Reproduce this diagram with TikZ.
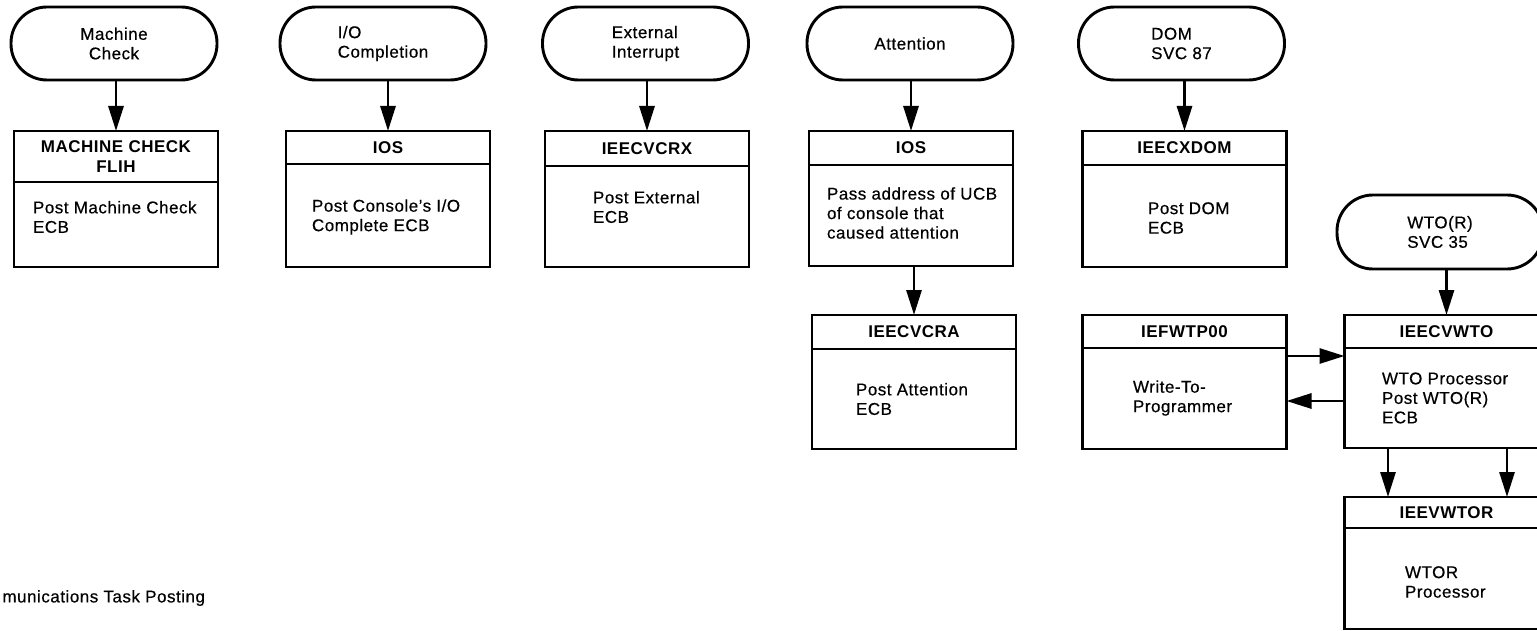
\documentclass[tikz,border=0pt]{standalone}
\usepackage{fontspec}
\setmainfont{Liberation Sans}[LetterSpace=3, FakeBold=0.45]
\newfontfamily\headfont{Liberation Sans Bold}[LetterSpace=3]
\usetikzlibrary{arrows.meta,calc}
\begin{document}
\begin{tikzpicture}[x=1pt,y=-1pt,
  every node/.style={font=\fontsize{17}{19.5}\selectfont, inner sep=0pt, outer sep=0pt},
  lw/.style={line width=2.9pt},
  terminal/.style={draw, lw, rectangle, rounded corners=36pt,
    minimum width=206pt, minimum height=73pt, align=left},
  head/.style={draw, lw, anchor=north, minimum width=204pt, minimum height=34pt,
    font=\fontsize{17}{19.5}\selectfont\headfont, align=center},
  body/.style={draw, lw, anchor=north, minimum width=204pt},
  txt/.style={anchor=west, align=left},
  flow/.style={lw, -{Triangle[length=25pt,width=15pt]}}
]
\useasboundingbox (0,0) rectangle (1537,631);
\fill[white] (0,0) rectangle (1537,631);
\clip (0,0) rectangle (1537,631);

% entry events
\node[terminal, align=center] (t1) at (114,43.5) {Machine\\Check};
\node[terminal] (t2) at (383,43.5) {I/O\\Completion};
\node[terminal] (t3) at (645.5,43.5) {External\\Interrupt};
\node[terminal] (t4) at (910,43.5) {Attention};
\node[terminal] (t5) at (1181.5,43.5) {DOM\\SVC 87};
\node[terminal, minimum height=74pt] (t6) at (1440,232) {WTO(R)\\SVC 35};

% module boxes: title strip plus body
\node[head, minimum height=51pt] (h1) at (116,131) {MACHINE CHECK\\FLIH};
\node[body, minimum height=85pt] (b1) at (h1.south) {};
\node[head, minimum height=33pt] (h2) at (388,131) {IOS};
\node[body, minimum height=103pt] (b2) at (h2.south) {};
\node[head, minimum height=35pt] (h3) at (647,131) {IEECVCRX};
\node[body, minimum height=101pt] (b3) at (h3.south) {};
\node[head] (h4) at (911,131) {IOS};
\node[body, minimum height=101pt] (b4) at (h4.south) {};
\node[head] (h5) at (1184.5,131) {IEECXDOM};
\node[body, minimum height=102pt] (b5) at (h5.south) {};

\node[head] (hA) at (914,315) {IEECVCRA};
\node[body, minimum height=100pt] (bA) at (hA.south) {};
\node[head, minimum height=33pt] (hW) at (1184.5,315) {IEFWTP00};
\node[body, minimum height=101pt] (bW) at (hW.south) {};
\node[head, minimum height=33pt] (hV) at (1446.5,315) {IEECVWTO};
\node[body, minimum height=100pt] (bV) at (hV.south) {};
\node[head, minimum height=31pt] (hR) at (1446.5,497) {IEEVWTOR};
\node[body, minimum height=101pt] (bR) at (hR.south) {};

% body texts
\node[txt] (p1) at (33,217) {Post Machine Check\\ECB};
\node[txt] (p2) at (312,217) {Post Console's I/O\\Complete ECB};
\node[txt] (p3) at (593,207) {Post External\\ECB};
\node[txt] (p4) at (827,213) {Pass address of UCB\\of console that\\caused attention};
\node[txt] (p5) at (1148,218) {Post DOM\\ECB};
\node[txt] (pA) at (856,399) {Post Attention\\ECB};
\node[txt] (pW) at (1133,398) {Write-To-\\Programmer};
\node[txt] (pV) at (1382,398) {WTO Processor\\Post WTO(R)\\ECB};
\node[txt] (pR) at (1405,582) {WTOR\\Processor};

\node[anchor=east] (cap) at (205,598) {munications Task Posting};

% connectors
\draw[flow] (t1.south -| h1.north) -- (h1.north);
\draw[flow] (t2.south -| h2.north) -- (h2.north);
\draw[flow] (t3.south -| h3.north) -- (h3.north);
\draw[flow] (t4.south -| h4.north) -- (h4.north);
\draw[flow] (t5.south -| h5.north) -- (h5.north);
\draw[flow] (t6.south -| hV.north) -- (hV.north);
\draw[flow] (b4.south -| hA.north) -- (hA.north);
\draw[flow] ([yshift=-8pt]bW.north east) -- ([yshift=-8pt]bV.north west);
\draw[flow] ([yshift=-53pt]bV.north west) -- ([yshift=-53pt]bW.north east);
\draw[flow] ([xshift=-58.5pt]bV.south) -- ([xshift=-58.5pt]hR.north);
\draw[flow] ([xshift=60.5pt]bV.south) -- ([xshift=60.5pt]hR.north);
\end{tikzpicture}
\end{document}
